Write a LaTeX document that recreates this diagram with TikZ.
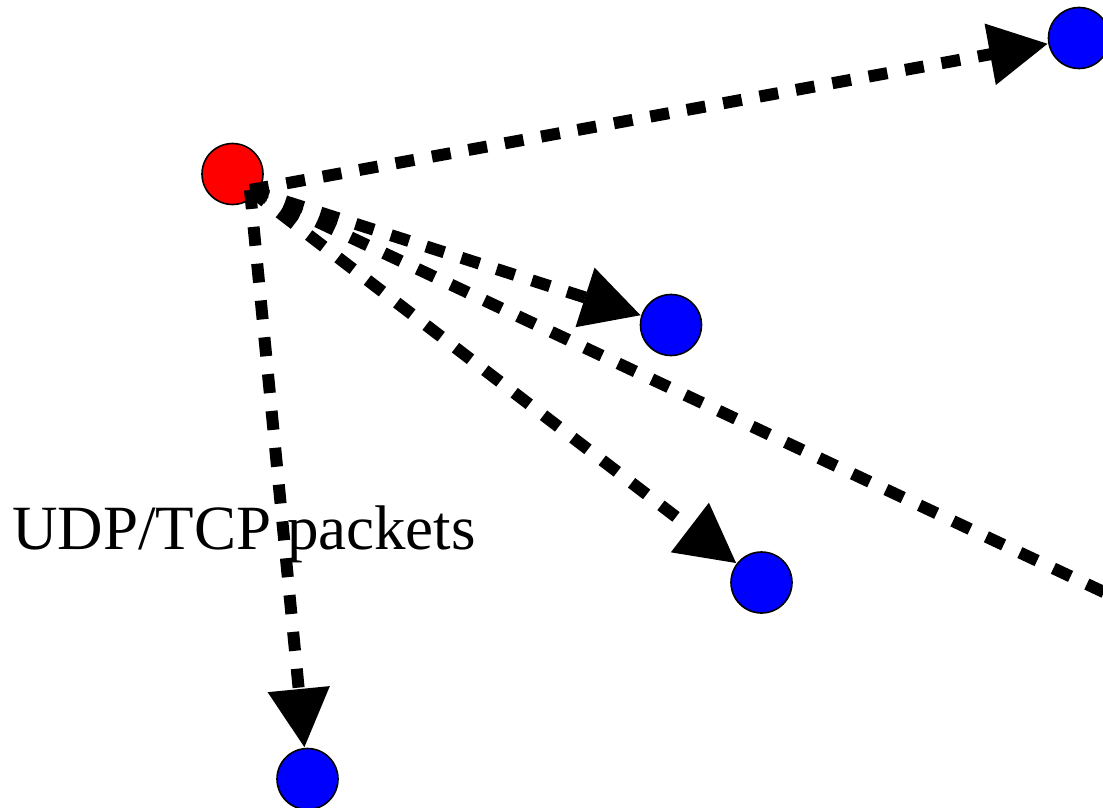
\documentclass[tikz,border=0pt]{standalone}
\usepackage{fontspec}
\setmainfont{Liberation Serif}
\usetikzlibrary{arrows.meta}
\begin{document}
\begin{tikzpicture}[x=1pt,y=-1pt,
  peer/.style={circle,draw=black,line width=1.6pt,minimum size=61pt,inner sep=0pt},
  src/.style={peer,fill=red},
  dst/.style={peer,fill=blue},
  dashline/.style={line width=12pt,dash pattern=on 19pt off 18pt},
  flow/.style={dashline,-{Triangle[length=59pt,width=59pt]}}]
\useasboundingbox (0,0) rectangle (1103,808);
\node[src] (r) at (232.5,174) {};
\node[dst] (b1) at (1079,38) {};
\node[dst] (b2) at (671,325) {};
\node[dst] (b3) at (761.5,582.5) {};
\node[dst] (b4) at (307.5,779) {};
\coordinate (s) at (250,190);
\coordinate (e) at (1110,595);
\draw[flow] (s) -- (b1);
\draw[flow] (s) -- (b2);
\draw[flow] (s) -- (b3);
\draw[flow] (s) -- (b4);
\draw[dashline] (s) -- (e);
\node[anchor=base west,inner sep=0pt,font=\fontsize{63}{76}\selectfont] (t) at (12,549) {UDP/TCP packets};
\end{tikzpicture}
\end{document}
